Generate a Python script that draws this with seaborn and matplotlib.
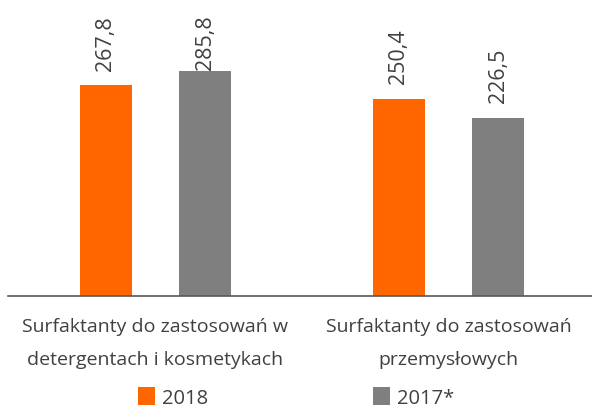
import matplotlib
matplotlib.use("Agg")
import matplotlib.pyplot as plt
import seaborn as sns
import pandas as pd
from matplotlib.patches import Patch

categories = ["Surfaktanty do zastosowań w\ndetergentach i kosmetykach",
              "Surfaktanty do zastosowań\nprzemysłowych"]
years = ["2018", "2017*"]
values_2018 = [267.8, 250.4]
values_2017 = [285.8, 226.5]
colors = ["#FF6600", "#7F7F7F"]

df = pd.DataFrame({
    "category": categories * 2,
    "year": [years[0]] * 2 + [years[1]] * 2,
    "value": values_2018 + values_2017,
})

sns.set_style("white")
plt.rcParams["font.family"] = ["Open Sans", "DejaVu Sans"]

fig = plt.figure(figsize=(5.92, 4.10), dpi=100)
ax = fig.add_axes([8 / 592, (410 - 297) / 410, 1 - 8 / 592, 297 / 410])

sns.barplot(data=df, x="category", y="value", hue="year", hue_order=years,
            palette=colors, width=0.68, gap=0.478, ax=ax, legend=False,
            saturation=1, edgecolor="none")

labels = []
for cont in ax.containers:
    labels += ax.bar_label(cont, labels=[f"{v:.1f}".replace(".", ",") for v in cont.datavalues],
                           rotation=90, padding=11, fontsize=15.5, color="#404040")

ax.set_xlim(-0.503, 1.49)
ax.set_ylim(0, 377)
ax.set_yticks([])
ax.set_xlabel("")
ax.set_ylabel("")
for s in ["top", "right", "left"]:
    ax.spines[s].set_visible(False)
ax.spines["bottom"].set_color("#595959")
ax.spines["bottom"].set_linewidth(1.2)
ax.tick_params(axis="x", length=0, pad=15, labelsize=14, labelcolor="#404040")
for t in ax.get_xticklabels():
    t.set_linespacing(2.05)

# keep value labels inside the figure (shift down if they would overflow)
fig.canvas.draw()
r = fig.canvas.get_renderer()
limit = fig.bbox.height - 15
for t in labels:
    bb = t.get_window_extent(r)
    if bb.y1 > limit:
        dx, dy = t.xyann
        t.xyann = (dx, dy - (bb.y1 - limit) * 72 / fig.dpi)

handles = [Patch(facecolor=c, edgecolor="none") for c in colors]
fig.legend(handles, years, loc="center", bbox_to_anchor=(0.5, 0.028), ncol=2,
           frameon=False, fontsize=14.5, handlelength=0.85, handleheight=0.95,
           handletextpad=0.35, columnspacing=8.2, labelcolor="#404040")

fig.savefig("out.png", dpi=100)
